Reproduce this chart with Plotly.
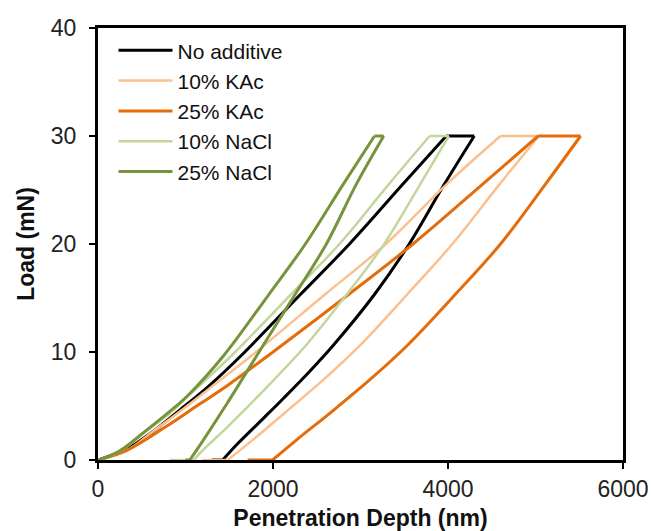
import plotly.graph_objects as go

# ---- data (depth in nm, load in mN) ----
series_names = ["No additive", "10% KAc", "25% KAc", "10% NaCl", "25% NaCl"]
series_colors = ["#000000", "#FAC090", "#E46C0A", "#C3D69B", "#77933C"]
series_widths = [3, 2.5, 3, 2.5, 3]

# loading branches
no_add_load_depth = [0, 330, 620, 930, 1260, 1640, 2310, 2874, 3480, 3980]
no_add_load_force = [0, 1.0, 2.6, 4.6, 6.8, 9.7, 15.3, 20, 25.5, 30]
kac10_load_depth = [0, 350, 620, 920, 1270, 1760, 2590, 3290, 3980, 4600]
kac10_load_force = [0, 1.0, 2.6, 4.4, 6.6, 9.7, 15.3, 20, 25.5, 30]
kac25_load_depth = [0, 330, 760, 1110, 1480, 2000, 2860, 3600, 4390, 5030]
kac25_load_force = [0, 0.9, 3.0, 4.9, 6.9, 10.0, 15.3, 20, 25.5, 30]
nacl10_load_depth = [0, 250, 540, 830, 1040, 1530, 2200, 2760, 3320, 3790]
nacl10_load_force = [0, 0.8, 2.6, 4.4, 6.0, 9.7, 15.3, 20, 25.5, 30]
nacl25_load_depth = [0, 240, 530, 820, 1030, 1440, 1950, 2370, 2800, 3160]
nacl25_load_force = [0, 0.8, 2.6, 4.5, 6.0, 9.7, 15.3, 20, 25.5, 30]

# unloading branches (start at the end of the hold at 30 mN)
no_add_unl_depth = [4300, 3956, 3557, 3157, 2692, 2418, 2118, 1890, 1595, 1425]
no_add_unl_force = [30, 25.5, 20, 15.3, 10.65, 8.2, 5.7, 3.86, 1.5, 0]
kac10_unl_depth = [5040, 4586, 4050, 3530, 3000, 2600, 2150, 1790, 1483]
kac10_unl_force = [30, 25.5, 20, 15.3, 10.65, 7.6, 4.47, 2.0, 0]
kac25_unl_depth = [5515, 5110, 4600, 4080, 3540, 3130, 2690, 2260, 1995]
kac25_unl_force = [30, 25.5, 20, 15.3, 10.65, 7.6, 4.6, 1.8, 0]
nacl10_unl_depth = [4010, 3680, 3270, 2840, 2380, 1900, 1670, 1460, 1210, 1095]
nacl10_unl_force = [30, 25.5, 20, 15.3, 10.65, 6.5, 4.6, 2.9, 1.0, 0]
nacl25_unl_depth = [3265, 2950, 2610, 2250, 1890, 1480, 1200, 1049]
nacl25_unl_force = [30, 25.5, 20, 15.3, 10.65, 5.3, 1.8, 0]

# depth where the zero-load tail ends after unloading
retract_end_depth = [1300, 1190, 1710, 820, 1000]

x_ticks = [0, 2000, 4000, 6000]
y_ticks = [0, 10, 20, 30, 40]

loading = [(no_add_load_depth, no_add_load_force), (kac10_load_depth, kac10_load_force),
           (kac25_load_depth, kac25_load_force), (nacl10_load_depth, nacl10_load_force),
           (nacl25_load_depth, nacl25_load_force)]
unloading = [(no_add_unl_depth, no_add_unl_force), (kac10_unl_depth, kac10_unl_force),
             (kac25_unl_depth, kac25_unl_force), (nacl10_unl_depth, nacl10_unl_force),
             (nacl25_unl_depth, nacl25_unl_force)]

FONT = "Liberation Sans, Arial, sans-serif"

fig = go.Figure()
for i, name in enumerate(series_names):
    color, w = series_colors[i], series_widths[i]
    (ld, lf), (ud, uf) = loading[i], unloading[i]
    line_s = dict(color=color, width=w, shape="spline", smoothing=1.0)
    line_l = dict(color=color, width=w)
    # loading curve
    fig.add_trace(go.Scatter(x=ld, y=lf, mode="lines", name=name, line=line_s,
                             showlegend=True))
    # hold at peak load + zero-load tail (straight segments)
    fig.add_trace(go.Scatter(
        x=[ld[-1], ud[0], None, ud[-1], retract_end_depth[i]],
        y=[lf[-1], uf[0], None, uf[-1], uf[-1]],
        mode="lines", line=line_l, showlegend=False, hoverinfo="skip"))
    # unloading curve
    fig.add_trace(go.Scatter(x=ud, y=uf, mode="lines", name=name, line=line_s,
                             showlegend=False))

axis_common = dict(
    showline=True, linecolor="black", linewidth=3, mirror=True,
    ticks="outside", ticklen=6, tickwidth=2, tickcolor="black",
    showgrid=False, zeroline=False, layer="below traces", automargin=False,
    tickfont=dict(family=FONT, size=23, color="#222222"),
)

fig.update_layout(
    width=651, height=531,
    margin=dict(l=98, r=28, t=28, b=71),
    paper_bgcolor="white", plot_bgcolor="white",
    font=dict(family=FONT, color="#111111"),
    showlegend=True,
    legend=dict(
        x=0.0295, y=0.995, xanchor="left", yanchor="top",
        bgcolor="rgba(0,0,0,0)", borderwidth=0,
        font=dict(family=FONT, size=21, color="#111111"),
        itemwidth=54, tracegroupgap=0,
    ),
    xaxis=dict(
        range=[0, 6000], tickvals=x_ticks,
        title=dict(text="<b>Penetration Depth (nm)</b>", standoff=10,
                   font=dict(family=FONT, size=23, color="#111111")),
        **axis_common,
    ),
    yaxis=dict(
        range=[0, 40], tickvals=y_ticks, ticklabelstandoff=8,
        title=dict(text="<b>Load (mN)</b>", standoff=10,
                   font=dict(family=FONT, size=23, color="#111111")),
        **axis_common,
    ),
)

fig.write_html("out.html")
